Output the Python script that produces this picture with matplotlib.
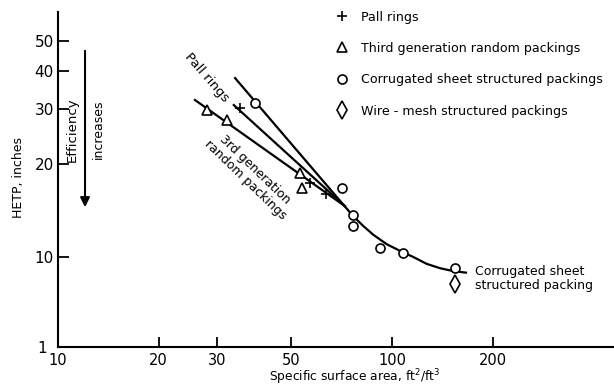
import matplotlib
matplotlib.use("Agg")
import matplotlib.pyplot as plt
import matplotlib.transforms as mtransforms
import numpy as np

# measured points (ft2/ft3, inches)
pall_x = [35.1, 56.8, 63.4]
pall_y = [30.3, 17.4, 16.0]
third_x = [27.9, 32.0, 53.0, 53.7]
third_y = [29.9, 27.8, 18.7, 16.7]
corr_x = [38.9, 70.7, 76.3, 76.3, 92.1, 107.6, 154.4]
corr_y = [31.4, 16.7, 13.7, 12.6, 10.7, 10.3, 9.2]
wire_x = [154.4]
wire_y = [8.2]

# correlation lines
pall_line_x = [33.6, 72.3]
pall_line_y = [31.0, 14.6]
third_line_x = [25.7, 72.3]
third_line_y = [32.2, 14.6]
corr_line_x = [33.9, 76.3, 82.0, 87.9, 96.4, 106.9, 115.8, 127.0, 139.2, 152.6, 166.5]
corr_line_y = [37.9, 13.6, 12.6, 11.8, 11.0, 10.4, 10.0, 9.5, 9.2, 9.0, 8.9]

x_ticks = [10, 20, 30, 50, 100, 200]
y_ticks = [1, 10, 20, 30, 40, 50]

legend_labels = [
    "Pall rings",
    "Third generation random packings",
    "Corrugated sheet structured packings",
    "Wire - mesh structured packings",
]

# broken log axis: everything below Y_BREAK squeezed down to 1
Y_BREAK = 5.2
SQUEEZE = 0.01


def _fwd(y):
    lb = np.log10(Y_BREAK)
    ly = np.log10(np.clip(np.asarray(y, float), 1e-6, None))
    return np.where(ly >= lb, ly, lb - (lb - ly) * SQUEEZE)


def _inv(v):
    lb = np.log10(Y_BREAK)
    v = np.asarray(v, float)
    with np.errstate(all="ignore"):
        low = 10 ** np.clip(lb - (lb - v) / SQUEEZE, -300, 300)
        return np.where(v >= lb, 10 ** v, low)


W, H = 614, 387
fig = plt.figure(figsize=(W / 100, H / 100), dpi=100)
ax = fig.add_axes([58 / W, 40 / H, 556 / W, 335 / H])
ax.set_xscale("log")
ax.set_yscale("function", functions=(_fwd, _inv))
ax.set_xlim(10, 462)
ax.set_ylim(1, 62)

lw = 1.6
ax.plot(corr_line_x, corr_line_y, color="black", lw=lw)
ax.plot(pall_line_x, pall_line_y, color="black", lw=lw)
ax.plot(third_line_x, third_line_y, color="black", lw=lw)

mk = dict(linestyle="none", color="black", mfc="white", mew=1.2)
h_pall, = ax.plot(pall_x, pall_y, marker="+", ms=7, **mk)
h_third, = ax.plot(third_x, third_y, marker="^", ms=6.5, **mk)
h_corr, = ax.plot(corr_x, corr_y, marker="o", ms=6.5, **mk)
h_wire, = ax.plot(wire_x, wire_y, marker="d", ms=9, **mk)

for s in ["top", "right"]:
    ax.spines[s].set_visible(False)
for s in ["left", "bottom"]:
    ax.spines[s].set_linewidth(1.5)

ax.xaxis.set_major_locator(matplotlib.ticker.FixedLocator(x_ticks))
ax.xaxis.set_minor_locator(matplotlib.ticker.NullLocator())
ax.set_xticklabels([str(t) for t in x_ticks])
ax.yaxis.set_major_locator(matplotlib.ticker.FixedLocator(y_ticks))
ax.yaxis.set_minor_locator(matplotlib.ticker.NullLocator())
ax.set_yticklabels([str(t) for t in y_ticks])
ax.tick_params(axis="x", direction="in", length=7, width=1.3, pad=4, labelsize=10.5)
ax.tick_params(axis="y", direction="in", length=8, width=1.3, pad=3, labelsize=11)

# the "1" at the axis break sits a little further left, clear of the "10" below
one_label = ax.yaxis.get_major_ticks()[0].label1
one_label.set_transform(one_label.get_transform()
                        + mtransforms.ScaledTranslation(-0.07, 0, fig.dpi_scale_trans))

ax.set_xlabel("Specific surface area, ft$^2$/ft$^3$", fontsize=8.8)
ax.xaxis.set_label_coords(0.534, -0.062)
ax.set_ylabel("HETP, inches", fontsize=9)
ax.yaxis.set_label_coords(-0.06, 0.507)

# efficiency arrow
ax.annotate("", xy=(0.0486, 0.409), xytext=(0.0486, 0.8925), xycoords="axes fraction",
            arrowprops=dict(arrowstyle="-|>", lw=1.5, color="black", mutation_scale=14))
ax.text(0.0256, 0.65, "Efficiency", transform=ax.transAxes, rotation=90,
        ha="center", va="center", fontsize=9.5)
ax.text(0.0720, 0.65, "increases", transform=ax.transAxes, rotation=90,
        ha="center", va="center", fontsize=9)


def fpx(x, y):
    return (x / W, 1 - y / H)


fig.text(*fpx(207, 78), "Pall rings", rotation=-49, ha="center", va="center",
         rotation_mode="anchor", fontsize=9.5)
fig.text(*fpx(250, 175), "3rd generation\nrandom packings", rotation=-44,
         ha="center", va="center", rotation_mode="anchor", fontsize=9, linespacing=1.1)
fig.text(*fpx(475, 279), "Corrugated sheet\nstructured packing", ha="left",
         va="center", fontsize=9, linespacing=1.1)

ax.legend([h_pall, h_third, h_corr, h_wire], legend_labels, loc="upper left",
          bbox_to_anchor=(333 / W, 1 - 8 / H), bbox_transform=fig.transFigure,
          frameon=False, fontsize=9.1, handlelength=1.0, handletextpad=1.0,
          labelspacing=1.45, borderpad=0.2, borderaxespad=0)

fig.savefig("out.png", dpi=100)
